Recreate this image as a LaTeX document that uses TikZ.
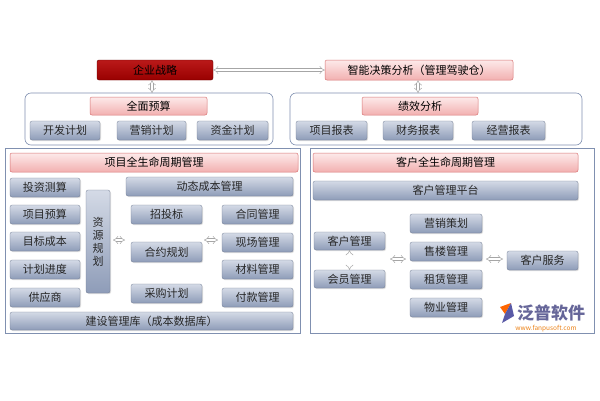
\documentclass[tikz,border=0pt]{standalone}
\usepackage{fontspec}
\setmainfont{Noto Sans CJK SC}
\usetikzlibrary{arrows.meta,shadows}
\definecolor{bgb}{HTML}{8E9CB8}
\definecolor{bgt}{HTML}{D4DAE6}
\definecolor{pkt}{HTML}{FDEAEA}
\definecolor{pkb}{HTML}{F2B0B0}
\definecolor{pkd}{HTML}{D87474}
\definecolor{grp}{HTML}{8090B0}
\tikzset{
 bx/.style={rectangle,rounded corners=2pt,top color=bgt,bottom color=bgb,draw=bgb!80!black,line width=0.3pt,
   font=\fontsize{11}{13}\selectfont,text=black!85,inner sep=0pt,drop shadow={opacity=0.25,shadow xshift=1pt,shadow yshift=-1pt}},
 pk/.style={rectangle,rounded corners=2pt,top color=pkt,bottom color=pkb,draw=pkd,line width=0.5pt,
   font=\fontsize{11}{13}\selectfont,inner sep=0pt},
 grpbox/.style={draw=grp,line width=0.6pt,rounded corners=6pt},
 panel/.style={draw=grp,line width=0.6pt},
 dar/.style={draw=gray!70,double=white,double distance=2.2pt,line width=0.5pt,{Implies}-{Implies}},
}
\newcommand{\bxat}[5]{\node[#5,minimum width=#3-#1,minimum height=#4-#2] at ({(#1+#3)/2},{(#2+#4)/2})}
\begin{document}
\begin{tikzpicture}[x=1pt,y=-1pt]
\useasboundingbox (0,0) rectangle (600,400);
\fill[white] (0,0) rectangle (600,400);
% top
\bxat{97}{60}{213}{80}{rectangle,rounded corners=2pt,top color=red!70!black!90,bottom color=red!60!black,draw=red!40!black,font=\fontsize{11}{13}\selectfont,inner sep=0pt} (zl) {企业战略};
\bxat{325}{60}{513}{80}{pk} (zn) {智能决策分析（管理驾驶仓）};
\draw[dar] (zl.east) -- (zn.west);
% groups
\draw[grpbox] (25,93) rectangle (273,145);
\draw[grpbox] (290,93) rectangle (582,145);
\coordinate (g1) at (152,93); \coordinate (g2) at (418,93);
\draw[dar] (zl.south -| g1) -- (g1);
\draw[dar] (zn.south -| g2) -- (g2);
\bxat{90}{97}{207}{115}{pk} (qm) {全面预算};
\bxat{30}{121}{100}{140}{bx} (kf) {开发计划};
\bxat{117}{121}{186}{140}{bx} (yx) {营销计划};
\bxat{197}{121}{268}{140}{bx} (zj) {资金计划};
\bxat{362}{97}{478}{115}{pk} (jx) {绩效分析};
\bxat{296}{121}{367}{140}{bx} (xm) {项目报表};
\bxat{383}{121}{453}{140}{bx} (cw) {财务报表};
\bxat{472}{121}{545}{140}{bx} (jy) {经营报表};
% left panel
\draw[panel] (5,148) rectangle (300,333);
\bxat{10}{153}{298}{172}{pk} (lh) {项目全生命周期管理};
\bxat{10}{178}{80}{197}{bx} (a1) {投资测算};
\bxat{10}{205}{80}{224}{bx} (a2) {项目预算};
\bxat{10}{232}{80}{251}{bx} (a3) {目标成本};
\bxat{10}{260}{80}{279}{bx} (a4) {计划进度};
\bxat{10}{288}{80}{307}{bx} (a5) {供应商};
\bxat{86}{190}{110}{293}{bx,align=center} (zy) {资\\源\\规\\划};
\bxat{126}{177}{293}{196}{bx} (dt) {动态成本管理};
\bxat{131}{205}{202}{224}{bx} (zt) {招投标};
\bxat{131}{242}{202}{262}{bx} (hy) {合约规划};
\bxat{131}{284}{202}{303}{bx} (cg) {采购计划};
\bxat{222}{205}{293}{224}{bx} (b1) {合同管理};
\bxat{222}{233}{293}{252}{bx} (b2) {现场管理};
\bxat{222}{260}{293}{279}{bx} (b3) {材料管理};
\bxat{222}{288}{293}{307}{bx} (b4) {付款管理};
\bxat{10}{312}{293}{330}{bx} (js) {建设管理库（成本数据库）};
\draw[dar] (113,240) -- (125,240);
\draw[dar] (204,240) -- (218,240);
% right panel
\draw[panel] (310,148) rectangle (594,333);
\bxat{313}{153}{578}{172}{pk} (rh) {客户全生命周期管理};
\bxat{313}{181}{578}{200}{bx} (pt) {客户管理平台};
\bxat{314}{232}{385}{250}{bx} (kh) {客户管理};
\bxat{314}{270}{385}{288}{bx} (hm) {会员管理};
\draw[dar] (kh.south) -- (hm.north);
\bxat{410}{214}{482}{233}{bx} (c1) {营销策划};
\bxat{410}{242}{482}{261}{bx} (c2) {售楼管理};
\bxat{410}{270}{482}{289}{bx} (c3) {租赁管理};
\bxat{410}{298}{482}{317}{bx} (c4) {物业管理};
\bxat{507}{251}{578}{270}{bx} (kf2) {客户服务};
\draw[dar] (390,259) -- (406,259);
\draw[dar] (486,259) -- (503,259);
% logo
\node[text=gray!80!blue,font=\fontsize{17}{18}\selectfont\bfseries,anchor=west,inner sep=0pt] (logo) at (517,313) {泛普软件};
\fill[orange!80!red] (500,307) -- (511,303) -- (505,314) -- cycle;
\fill[gray!70!blue] (505,314) -- (511,303) -- (514,316) -- (502,323) -- cycle;
\node[text=orange!70!brown,font=\fontsize{6.5}{7}\selectfont,anchor=north,inner sep=1pt] (url) at (546,324) {www.fanpusoft.com};
\end{tikzpicture}
\end{document}
